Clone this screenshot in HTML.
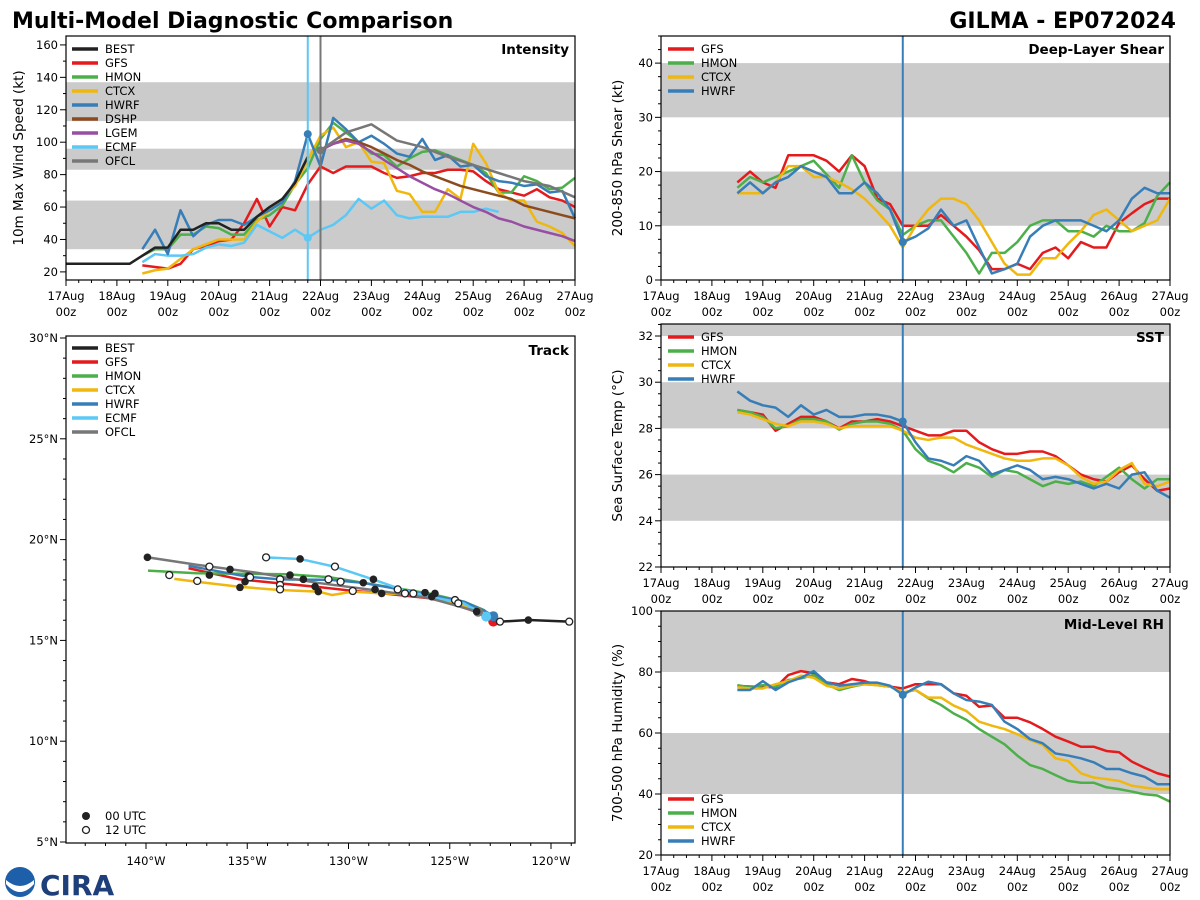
<!DOCTYPE html>
<html><head><meta charset="utf-8">
<style>
html,body{margin:0;padding:0;background:#fff;}
svg{display:block;font-family:"DejaVu Sans","Liberation Sans",sans-serif;}
</style></head>
<body>
<svg id="chart" width="1200" height="900" viewBox="0 0 1200 900" xmlns="http://www.w3.org/2000/svg">
<text x="12" y="28" font-size="22" font-weight="bold">Multi-Model Diagnostic Comparison</text>
<text x="1176" y="28" font-size="22" font-weight="bold" text-anchor="end">GILMA - EP072024</text>
<g>
<circle cx="20" cy="882" r="15" fill="#1d5fa8"/>
<path d="M6,880 Q20,892 34,880 L34,884 Q20,900 6,884Z" fill="#fff"/>
<text x="40" y="895" font-size="28" font-weight="bold" fill="#1f3f7a">CIRA</text>
</g>
</svg>
<script>
// ---------- shared time axis ----------
const tickDays = ['17Aug','18Aug','19Aug','20Aug','21Aug','22Aug','23Aug','24Aug','25Aug','26Aug','27Aug'];
const modelStartHour = 36;
const modelStepHour = 6;
// ---------- Intensity (kt) ----------
const bestHours = [0,6,12,18,24,30,36,42,48,54,60,66,72,78,84,90,96,102,108,114];
const bestIntensity = [25,25,25,25,25,25,30,35,35,46,46,50,50,46,46,54,60,65,75,91];
const gfsIntensity = [24,23,22,25,34,36,39,40,50,65,48,60,58,74,85,81,85,85,85,81,78,79,81,81,83,83,82,76,71,69,67,71,66,64,60];
const hmonIntensity = [30,34,34,43,43,48,47,43,43,52,55,61,74,84,102,112,106,100,93,92,85,90,94,95,92,89,86,81,69,69,79,76,71,72,78];
const ctcxIntensity = [19,21,22,28,34,37,40,40,40,51,58,65,73,89,104,109,97,100,88,87,70,68,57,57,71,65,99,87,69,64,64,51,48,44,36];
const hwrfIntensity = [34,46,31,58,42,49,52,52,49,54,58,63,76,105,85,115,108,100,104,99,93,91,102,89,92,85,86,79,76,75,73,74,69,70,53];
const ecmfIntensity = [26,31,30,30,31,35,37,36,38,49,45,41,46,41,46,49,55,65,59,64,55,53,54,54,54,57,57,59,57];
const dshpIntensity = [95,99,102,100,97,93,89,86,82,79,76,73,71,69,67,65,61,59,57,55,53];
const lgemIntensity = [95,99,101,99,94,89,84,79,75,71,68,64,60,57,53,51,48,46,44,42,39];
const ofclHours = [120,132,144,156,168,180,192,204,216,228,240];
const ofclIntensity = [95,106,111,101,97,91,86,81,76,73,66];
const dshpStartHour = 120;
// ---------- Shear (kt) ----------
const gfsShear = [18,20,18,17,23,23,23,22,20,23,21,15,14,10,10,10,12,10,8,5.5,2,2,3,2,5,6,4,7,6,6,10.5,12.3,14,15,15];
const hmonShear = [17,19,18,19,20,21,22,19.5,17,23,18,14.7,13,8.3,10,11,11,8,5,1.2,5,5,7,10,11,11,9,9,8,10,9,9,10.5,15.5,18];
const ctcxShear = [16,16,16,18,21,21,19,19,18,16.7,15,12.6,10,6,10,13,15,15,14,11,7,3,1,1,4,4,6.7,9,12,13,11,9,10,11,15];
const hwrfShear = [16,18,16,18,19,21,20,19,16,16,18,16,13,7,8,9.5,13,10,11,6,1.2,2,3,8,10,11,11,11,10,9,11,15,17,16,16];
// ---------- SST (C) ----------
const gfsSST = [28.8,28.7,28.6,27.9,28.2,28.5,28.5,28.3,28.0,28.3,28.3,28.4,28.3,28.1,27.9,27.7,27.7,27.9,27.9,27.4,27.1,26.9,26.9,27.0,27.0,26.8,26.4,26.0,25.8,25.7,26.1,26.4,25.8,25.3,25.4];
const hmonSST = [28.8,28.7,28.5,28.0,28.1,28.4,28.4,28.3,27.95,28.2,28.3,28.3,28.2,27.9,27.1,26.6,26.4,26.1,26.5,26.3,25.9,26.2,26.1,25.8,25.5,25.7,25.6,25.7,25.5,25.9,26.3,25.8,25.4,25.8,25.8];
const ctcxSST = [28.7,28.6,28.4,28.2,28.1,28.3,28.3,28.2,28.0,28.1,28.1,28.1,28.1,27.9,27.6,27.5,27.6,27.6,27.3,27.1,26.9,26.7,26.6,26.6,26.7,26.7,26.4,25.9,25.6,25.7,26.2,26.5,25.6,25.5,25.7];
const hwrfSST = [29.6,29.2,29.0,28.9,28.5,29.0,28.6,28.8,28.5,28.5,28.6,28.6,28.5,28.3,27.4,26.7,26.6,26.4,26.8,26.6,26.0,26.2,26.4,26.2,25.8,25.9,25.8,25.6,25.4,25.6,25.4,26.0,26.1,25.3,25.0];
// ---------- Mid-level RH (%) ----------
const gfsRH = [75.5,75.2,75.2,74.9,79,80.3,79.6,76.6,76,77.7,77,75.7,75.2,74.6,76,76,76,73,72.2,68.6,69,65,65,63.5,61.3,58.8,57.2,55.5,55.5,54.1,53.7,50.6,48.6,46.8,45.7];
const hmonRH = [75.7,74.9,75.7,75.2,77.4,77.9,79,76,74.1,75.2,76,75.7,75.2,73.3,74.1,71.4,69.2,66.4,64.3,61.3,58.8,56.3,52.6,49.5,48.2,46.2,44.3,43.7,43.7,42.2,41.6,40.8,39.9,39.5,37.5];
const ctcxRH = [75,74.6,74.6,76,77,78.8,78.1,75.5,74.6,75.5,76,75.7,75.2,73.3,74.1,71.6,71.6,69,67.2,63.7,62.4,61.3,59.6,57.7,56.1,51.7,50.8,46.8,45.4,44.9,44.3,42.7,42.1,41.6,41.6];
const hwrfRH = [74.1,74.1,77,74.1,76.6,78.1,80.3,76.6,75.5,76,76.5,76.5,75.5,72.5,74.9,76.8,76,73,70.8,70.3,69.2,63.7,61.3,58,56.6,53.3,52.6,51.7,50.4,48.2,48.2,46.8,45.7,43.2,43.2];
// ---------- Track (lon deg E, lat deg N) ----------
const bestTrackLon = [-119.1,-121.1,-122.5,-122.9];
const bestTrackLat = [15.93,16.01,15.93,16.0];
const ofclTrackLon = [-123.6,-126.0,-128.8,-131.5,-134.5,-137.5,-139.9];
const ofclTrackLat = [16.42,17.1,17.5,17.85,18.35,18.75,19.12];
const gfsTrackLon = [-122.85,-123.6,-124.7,-126.0,-128.3,-129.8,-131.6,-133.4,-135.4,-137.9];
const gfsTrackLat = [15.93,16.38,16.76,17.09,17.33,17.46,17.66,17.83,18.03,18.58];
const hmonTrackLon = [-122.85,-123.3,-124.3,-126.0,-127.6,-130.9,-133.05,-137.5,-139.9];
const hmonTrackLat = [16.0,16.5,16.92,17.33,17.58,18.13,18.28,18.33,18.46];
const ctcxTrackLon = [-122.85,-123.3,-124.7,-126.0,-128.3,-129.8,-130.8,-131.5,-133.4,-135.4,-137.5,-138.6];
const ctcxTrackLat = [15.98,16.42,16.83,17.25,17.33,17.42,17.25,17.42,17.5,17.66,17.91,18.05];
const hwrfTrackLon = [-122.85,-123.3,-124.3,-126.0,-127.3,-129.3,-130.9,-133.4,-135.0,-137.9];
const hwrfTrackLat = [16.2,16.48,16.92,17.25,17.5,17.86,18.0,18.03,18.16,18.7];
const ecmfTrackLon = [-123.2,-124.3,-126.0,-127.3,-128.8,-130.7,-132.4,-134.1];
const ecmfTrackLat = [16.18,16.84,17.17,17.5,18.03,18.66,19.04,19.12];
const filledMarkLon = [-139.93,-132.39,-135.85,-136.87,-134.95,-135.36,-135.11,-132.89,-132.23,-131.65,-131.49,-129.27,-128.77,-128.69,-128.36,-126.22,-125.89,-125.73,-123.67,-121.12];
const filledMarkLat = [19.12,19.04,18.52,18.24,18.19,17.63,17.91,18.24,18.03,17.67,17.42,17.86,18.03,17.53,17.33,17.37,17.17,17.33,16.43,16.01];
const openMarkLon = [-134.07,-138.85,-137.47,-136.87,-133.38,-133.38,-133.38,-134.86,-130.99,-130.67,-130.39,-129.79,-127.57,-127.21,-126.80,-124.74,-124.58,-122.52,-119.10];
const openMarkLat = [19.12,18.24,17.95,18.66,18.03,17.75,17.53,18.13,18.03,18.66,17.91,17.45,17.53,17.33,17.33,17.0,16.84,15.93,15.93];
const lonTicks = [-140,-135,-130,-125,-120];
const lonTickLabels = ['140°W','135°W','130°W','125°W','120°W'];
const latTicks = [5,10,15,20,25,30];
const latTickLabels = ['5°N','10°N','15°N','20°N','25°N','30°N'];

const C = {BEST:'#222222',GFS:'#e41a1c',HMON:'#4daf4a',CTCX:'#f0b70f',HWRF:'#377eb8',DSHP:'#8c4b1e',LGEM:'#984ea3',ECMF:'#5bc8f5',OFCL:'#777777'};
const NS='http://www.w3.org/2000/svg';
const svg=document.getElementById('chart');
const FS=11.5;
function mk(tag,attrs,parent){const e=document.createElementNS(NS,tag);for(const k in attrs)e.setAttribute(k,attrs[k]);(parent||svg).appendChild(e);return e;}

function makePanel(p){
  const g=mk('g',{});
  
  
  p.g=g;
  p.X=t=>p.x0+(t/240)*(p.x1-p.x0);
  p.Y=v=>p.y1-(v-p.vmin)/(p.vmax-p.vmin)*(p.y1-p.y0);
  p.bands.forEach(b=>{
    const ya=p.Y(Math.min(b[1],p.vmax)), yb=p.Y(b[0]);
    const r=mk('rect',{x:p.x0,y:ya,width:p.x1-p.x0,height:yb-ya,fill:'#cbcbcb'},g);
    
    
  });
  for(let h=0;h<=240;h+=6){
    const x=p.X(h), major=h%24===0;
    mk('line',{x1:x,x2:x,y1:p.y1,y2:p.y1+(major?6:3),stroke:'#000','stroke-width':1},g);
    if(major){
      const t=mk('text',{x:x,y:p.y1+20,'font-size':FS,'text-anchor':'middle'},g);
      t.textContent=tickDays[h/24];
      
      
      const t2=mk('text',{x:x,y:p.y1+36,'font-size':FS,'text-anchor':'middle'},g);
      t2.textContent='00z';
      
      
    }
  }
  for(let v=p.minorStart;v<=p.vmax+1e-6;v+=p.minor){
    const y=p.Y(v); const major=Math.abs(((v-p.majorStart)/p.major)-Math.round((v-p.majorStart)/p.major))<1e-6 && v>=p.majorStart;
    mk('line',{x1:p.x0,x2:p.x0-(major?6:3),y1:y,y2:y,stroke:'#000','stroke-width':1},g);
    if(major){
      const t=mk('text',{x:p.x0-8,y:y+4,'font-size':FS,'text-anchor':'end'},g);
      t.textContent=String(v);
      
      
    }
  }
  const yl=mk('text',{x:0,y:0,'font-size':13.5,'text-anchor':'middle',transform:`translate(${p.ylabX},${(p.y0+p.y1)/2}) rotate(-90)`},g);
  yl.textContent=p.ylabel;
  
  
  return p;
}
function finishPanel(p){
  const r=mk('rect',{x:p.x0,y:p.y0,width:p.x1-p.x0,height:p.y1-p.y0,fill:'none',stroke:'#000','stroke-width':1.2},p.g);
  
  
  const t=mk('text',{x:p.x1-6,y:p.y0+18,'font-size':13.5,'font-weight':'bold','text-anchor':'end'},p.g);
  t.textContent=p.title;
  
  
}
function series(p,hours,vals,color,name){
  const pts=vals.map((v,i)=>p.X(hours[i])+','+p.Y(v)).join(' ');
  const l=mk('polyline',{points:pts,fill:'none',stroke:color,'stroke-width':2.5,'stroke-linejoin':'round'},p.g);
  
  
}
function modelHours(n,start){const a=[];for(let i=0;i<n;i++)a.push((start===undefined?modelStartHour:start)+modelStepHour*i);return a;}
function vline(p,h,color,name){
  const l=mk('line',{x1:p.X(h),x2:p.X(h),y1:p.y0,y2:p.y1,stroke:color,'stroke-width':2},p.g);
  
  
}
function dot(p,h,v,color){
  const c=mk('circle',{cx:p.X(h),cy:p.Y(v),r:4,fill:color},p.g);
  
  
}
function legend(g,x,y,names,colors){
  names.forEach((n,i)=>{
    const yy=y+i*14;
    const l=mk('line',{x1:x,x2:x+26,y1:yy,y2:yy,stroke:colors[i],'stroke-width':3.5},g);
    
    
    const t=mk('text',{x:x+33,y:yy+4,'font-size':FS},g);
    t.textContent=n;
    
    
  });
}

// ----- Intensity -----
const I=makePanel({name:'intensity',title:'Intensity',x0:66,x1:575,y0:36,y1:280,vmin:15,vmax:165.5,bands:[[34,64],[83,96],[113,137]],minorStart:20,minor:10,majorStart:20,major:20,ylabel:'10m Max Wind Speed (kt)',ylabX:23});
series(I,modelHours(gfsIntensity.length),gfsIntensity,C.GFS,'gfs-intensity');
series(I,modelHours(hmonIntensity.length),hmonIntensity,C.HMON,'hmon-intensity');
series(I,modelHours(ctcxIntensity.length),ctcxIntensity,C.CTCX,'ctcx-intensity');
series(I,modelHours(ecmfIntensity.length),ecmfIntensity,C.ECMF,'ecmf-intensity');
series(I,modelHours(hwrfIntensity.length),hwrfIntensity,C.HWRF,'hwrf-intensity');
series(I,modelHours(dshpIntensity.length,dshpStartHour),dshpIntensity,C.DSHP,'dshp-intensity');
series(I,modelHours(lgemIntensity.length,dshpStartHour),lgemIntensity,C.LGEM,'lgem-intensity');
series(I,ofclHours,ofclIntensity,C.OFCL,'ofcl-intensity');
series(I,bestHours,bestIntensity,C.BEST,'best-intensity');
vline(I,114,C.ECMF,'init-time-line');
vline(I,120,C.OFCL,'ofcl-init-line');
dot(I,114,hwrfIntensity[13],C.HWRF);dot(I,114,ecmfIntensity[13],C.ECMF);dot(I,120,ofclIntensity[0],C.OFCL);
legend(I.g,72,49,['BEST','GFS','HMON','CTCX','HWRF','DSHP','LGEM','ECMF','OFCL'],[C.BEST,C.GFS,C.HMON,C.CTCX,C.HWRF,C.DSHP,C.LGEM,C.ECMF,C.OFCL]);
finishPanel(I);

// ----- Shear -----
const S=makePanel({name:'shear',title:'Deep-Layer Shear',x0:661,x1:1170,y0:36,y1:280,vmin:0,vmax:45,bands:[[10,20],[30,40]],minorStart:0,minor:2.5,majorStart:0,major:10,ylabel:'200-850 hPa Shear (kt)',ylabX:622});
series(S,modelHours(35),gfsShear,C.GFS,'gfs-shear');
series(S,modelHours(35),hmonShear,C.HMON,'hmon-shear');
series(S,modelHours(35),ctcxShear,C.CTCX,'ctcx-shear');
series(S,modelHours(35),hwrfShear,C.HWRF,'hwrf-shear');
vline(S,114,C.HWRF,'init-time-line');dot(S,114,hwrfShear[13],C.HWRF);
legend(S.g,668,49,['GFS','HMON','CTCX','HWRF'],[C.GFS,C.HMON,C.CTCX,C.HWRF]);
finishPanel(S);

// ----- SST -----
const T=makePanel({name:'sst',title:'SST',x0:661,x1:1170,y0:324,y1:567,vmin:22,vmax:32.52,bands:[[24,26],[28,30],[32,34]],minorStart:22,minor:0.5,majorStart:22,major:2,ylabel:'Sea Surface Temp (°C)',ylabX:622});
series(T,modelHours(35),gfsSST,C.GFS,'gfs-sst');
series(T,modelHours(35),hmonSST,C.HMON,'hmon-sst');
series(T,modelHours(35),ctcxSST,C.CTCX,'ctcx-sst');
series(T,modelHours(35),hwrfSST,C.HWRF,'hwrf-sst');
vline(T,114,C.HWRF,'init-time-line');dot(T,114,hwrfSST[13],C.HWRF);
legend(T.g,668,337,['GFS','HMON','CTCX','HWRF'],[C.GFS,C.HMON,C.CTCX,C.HWRF]);
finishPanel(T);

// ----- RH -----
const R=makePanel({name:'rh',title:'Mid-Level RH',x0:661,x1:1170,y0:611,y1:855,vmin:20,vmax:100,bands:[[40,60],[80,100]],minorStart:20,minor:5,majorStart:20,major:20,ylabel:'700-500 hPa Humidity (%)',ylabX:622});
series(R,modelHours(35),gfsRH,C.GFS,'gfs-rh');
series(R,modelHours(35),hmonRH,C.HMON,'hmon-rh');
series(R,modelHours(35),ctcxRH,C.CTCX,'ctcx-rh');
series(R,modelHours(35),hwrfRH,C.HWRF,'hwrf-rh');
vline(R,114,C.HWRF,'init-time-line');dot(R,114,hwrfRH[13],C.HWRF);
legend(R.g,668,799,['GFS','HMON','CTCX','HWRF'],[C.GFS,C.HMON,C.CTCX,C.HWRF]);
finishPanel(R);

// ----- Track -----
const tg=mk('g',{});


const TX0=66,TX1=575,TY0=336,TY1=843;
const LX=lon=>146+(lon+140)*20.25;
const LY=lat=>338+(30-lat)*20.16;
for(let lon=-143;lon<=-119;lon++){
  const major=lon%5===0;
  mk('line',{x1:LX(lon),x2:LX(lon),y1:TY1,y2:TY1+(major?6:3),stroke:'#000'},tg);
}
lonTicks.forEach((lon,i)=>{
  const t=mk('text',{x:LX(lon),y:TY1+22,'font-size':FS,'text-anchor':'middle'},tg);
  t.textContent=lonTickLabels[i];
  
  
});
for(let lat=5;lat<=30;lat++){
  const major=lat%5===0;
  mk('line',{x1:TX0,x2:TX0-(major?6:3),y1:LY(lat),y2:LY(lat),stroke:'#000'},tg);
}
latTicks.forEach((lat,i)=>{
  const t=mk('text',{x:TX0-8,y:LY(lat)+4,'font-size':FS,'text-anchor':'end'},tg);
  t.textContent=latTickLabels[i];
  
  
});
function track(lons,lats,color,name){
  const pts=lons.map((l,i)=>LX(l)+','+LY(lats[i])).join(' ');
  const p=mk('polyline',{points:pts,fill:'none',stroke:color,'stroke-width':2.5,'stroke-linejoin':'round'},tg);
  
  
}
track(gfsTrackLon,gfsTrackLat,C.GFS,'gfs-track');
track(hmonTrackLon,hmonTrackLat,C.HMON,'hmon-track');
track(ctcxTrackLon,ctcxTrackLat,C.CTCX,'ctcx-track');
track(hwrfTrackLon,hwrfTrackLat,C.HWRF,'hwrf-track');
track(ecmfTrackLon,ecmfTrackLat,C.ECMF,'ecmf-track');
track(ofclTrackLon,ofclTrackLat,C.OFCL,'ofcl-track');
track(bestTrackLon,bestTrackLat,C.BEST,'best-track');
[[ctcxTrackLon,ctcxTrackLat,C.CTCX],[gfsTrackLon,gfsTrackLat,C.GFS],[hwrfTrackLon,hwrfTrackLat,C.HWRF],[ecmfTrackLon,ecmfTrackLat,C.ECMF],[ofclTrackLon,ofclTrackLat,C.OFCL]].forEach(a=>{
  const c=mk('circle',{cx:LX(a[0][0]),cy:LY(a[1][0]),r:5,fill:a[2]},tg);
  
  
});
filledMarkLon.forEach((l,i)=>{
  const c=mk('circle',{cx:LX(l),cy:LY(filledMarkLat[i]),r:3.8,fill:'#222'},tg);
  
  
});
openMarkLon.forEach((l,i)=>{
  const c=mk('circle',{cx:LX(l),cy:LY(openMarkLat[i]),r:3.5,fill:'#fff',stroke:'#222','stroke-width':1.3},tg);
  
  
});
legend(tg,72,348,['BEST','GFS','HMON','CTCX','HWRF','ECMF','OFCL'],[C.BEST,C.GFS,C.HMON,C.CTCX,C.HWRF,C.ECMF,C.OFCL]);
const m1=mk('circle',{cx:86,cy:816,r:4,fill:'#222'},tg);


const m2=mk('circle',{cx:86,cy:830,r:3.5,fill:'#fff',stroke:'#222','stroke-width':1.3},tg);


const lt1=mk('text',{x:105,y:820,'font-size':FS},tg);lt1.textContent='00 UTC';


const lt2=mk('text',{x:105,y:834,'font-size':FS},tg);lt2.textContent='12 UTC';


const tf=mk('rect',{x:TX0,y:TY0,width:TX1-TX0,height:TY1-TY0,fill:'none',stroke:'#000','stroke-width':1.2},tg);


const tt=mk('text',{x:TX1-6,y:TY0+19,'font-size':13.5,'font-weight':'bold','text-anchor':'end'},tg);
tt.textContent='Track';


</script>
</body></html>
